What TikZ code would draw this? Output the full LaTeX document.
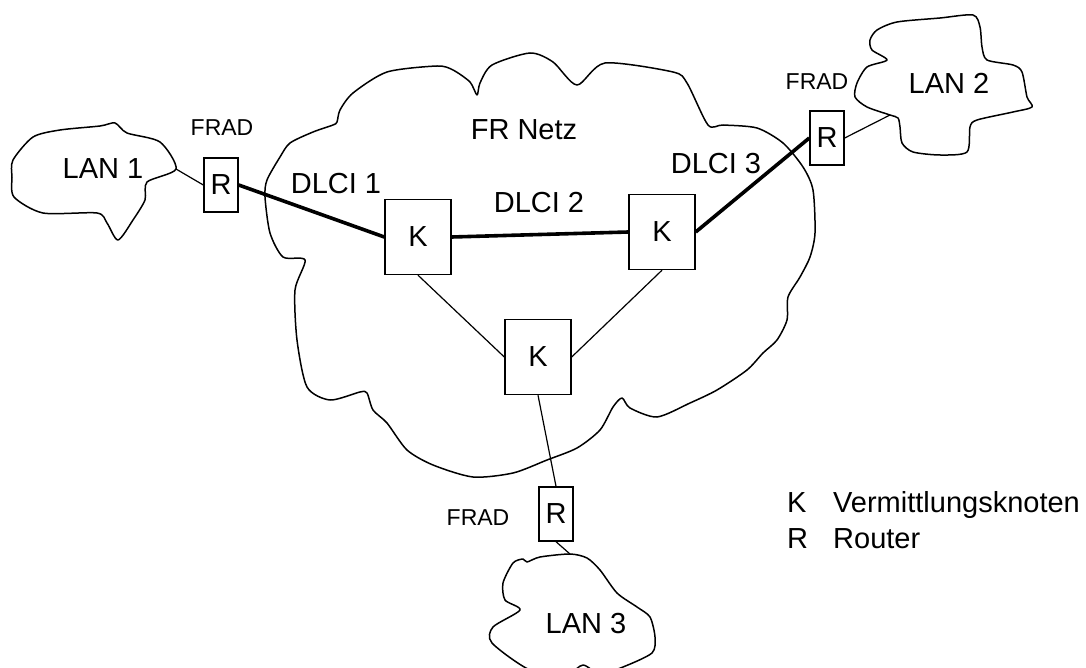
\documentclass[tikz,border=0pt]{standalone}
\usepackage{fontspec}
\setmainfont{Liberation Sans}
\usepackage{tikz}

\begin{document}
\begin{tikzpicture}[x=1pt,y=-1pt,
	  every node/.append style={inner sep=0pt},
	  wolke/.style={line width=1.5pt,line join=round},
	  duenn/.style={line width=1.2pt},
	  dick/.style={line width=3.6pt}]
	  \tikzstyle{schrift} = [font=\fontsize{29}{34}\selectfont]
	  \tikzstyle{frad} = [font=\fontsize{23}{27}\selectfont]
	  \tikzstyle{knoten} = [schrift,draw,line width=1.4pt,minimum width=66pt,minimum height=75pt]
	  \tikzstyle{router} = [schrift,draw,line width=1.4pt,minimum width=34pt,minimum height=54pt]
	  \useasboundingbox (0,0) rectangle (1086,668);
	  \draw[wolke] plot[smooth cycle,tension=0.45] coordinates {(265,197) (267,180) (280,157) (290,143) (313,132) (333,125) (337,122) (340,110) (353,93) (387,72) (437,66) (453,70) (470,82) (477,95) (480,83) (492,65) (530,53) (553,62) (577,85) (605,63) (673,72) (687,83) (708,125) (723,125) (757,128) (783,143) (803,167) (813,190) (815,233) (810,257) (800,277) (788,297) (787,320) (777,340) (763,353) (747,370) (717,390) (690,403) (657,417) (630,408) (622,398) (613,407) (600,430) (577,448) (547,460) (513,473) (473,477) (433,465) (407,450) (387,423) (373,410) (367,393) (360,392) (330,400) (307,387) (297,340) (295,290) (305,260) (283,257) (270,233)};
	  \draw[wolke] plot[smooth cycle,tension=0.45] coordinates {(13,160) (33,137) (60,130) (100,126) (115,123) (127,133) (160,142) (176,169) (147,182) (145,200) (133,220) (118,240) (107,223) (97,213) (43,213) (14,197) (12,177)};
	  \draw[wolke] plot[smooth cycle,tension=0.45] coordinates {(867,107) (890,115) (898,118) (900,127) (902,143) (913,152) (940,155) (967,152) (970,127) (977,120) (1013,112) (1032,107) (1027,97) (1022,72) (1013,65) (987,60) (982,47) (980,27) (973,15) (940,18) (897,22) (877,30) (870,40) (872,50) (887,60) (867,67) (857,83) (855,97)};
	  \draw[wolke] plot[smooth cycle,tension=0.45] coordinates {(513,563) (523,559) (527,562) (540,557) (570,554) (587,558) (600,570) (617,593) (637,607) (650,617) (655,637) (652,653) (623,667) (600,674) (583,665) (567,674) (530,670) (492,643) (493,627) (520,610) (505,600) (503,583)};
	  \coordinate (lan_1) at (176,169);
	  \coordinate (lan_2) at (890,115);
	  \coordinate (lan_3) at (570,554);
	  \node (t_lan1) [schrift] at (103,169) {LAN 1};
	  \node (t_lan2) [schrift] at (949,83) {LAN 2};
	  \node (t_lan3) [schrift] at (586,624) {LAN 3};
	  \node (t_netz) [schrift] at (524,130) {FR Netz};
	  \node (f_1) [frad] at (222,128) {FRAD};
	  \node (f_2) [frad] at (817,82) {FRAD};
	  \node (f_3) [frad] at (478,518) {FRAD};
	  \node (r_1) [router] at (221,185) {R};
	  \node (r_2) [router] at (827,138) {R};
	  \node (r_3) [router] at (556,514) {R};
	  \node (k_1) [knoten] at (418,237) {K};
	  \node (k_2) [knoten] at (662,232) {K};
	  \node (k_3) [knoten] at (538,357) {K};
	  \node (d_1) [schrift] at (336,184) {DLCI 1};
	  \node (d_2) [schrift] at (539,203) {DLCI 2};
	  \node (d_3) [schrift] at (716,164) {DLCI 3};
	  \node (leg_k) [schrift,anchor=base west] at (787,512) {K};
	  \node (leg_kt) [schrift,anchor=base west] at (833,512) {Vermittlungsknoten};
	  \node (leg_r) [schrift,anchor=base west] at (787,548) {R};
	  \node (leg_rt) [schrift,anchor=base west] at (833,548) {Router};
	  \draw[dick] (r_1.east) -- (k_1.west);
	  \draw[dick] (k_1.east) -- (k_2.west);
	  \draw[dick] (k_2.east) -- (r_2.west);
	  \draw[duenn] (lan_1) -- (r_1.west);
	  \draw[duenn] (r_2.east) -- (lan_2);
	  \draw[duenn] (k_1.south) -- (k_3.west);
	  \draw[duenn] (k_2.south) -- (k_3.east);
	  \draw[duenn] (k_3.south) -- (r_3.north);
	  \draw[duenn] (r_3.south) -- (lan_3);
	\end{tikzpicture}
\end{document}
